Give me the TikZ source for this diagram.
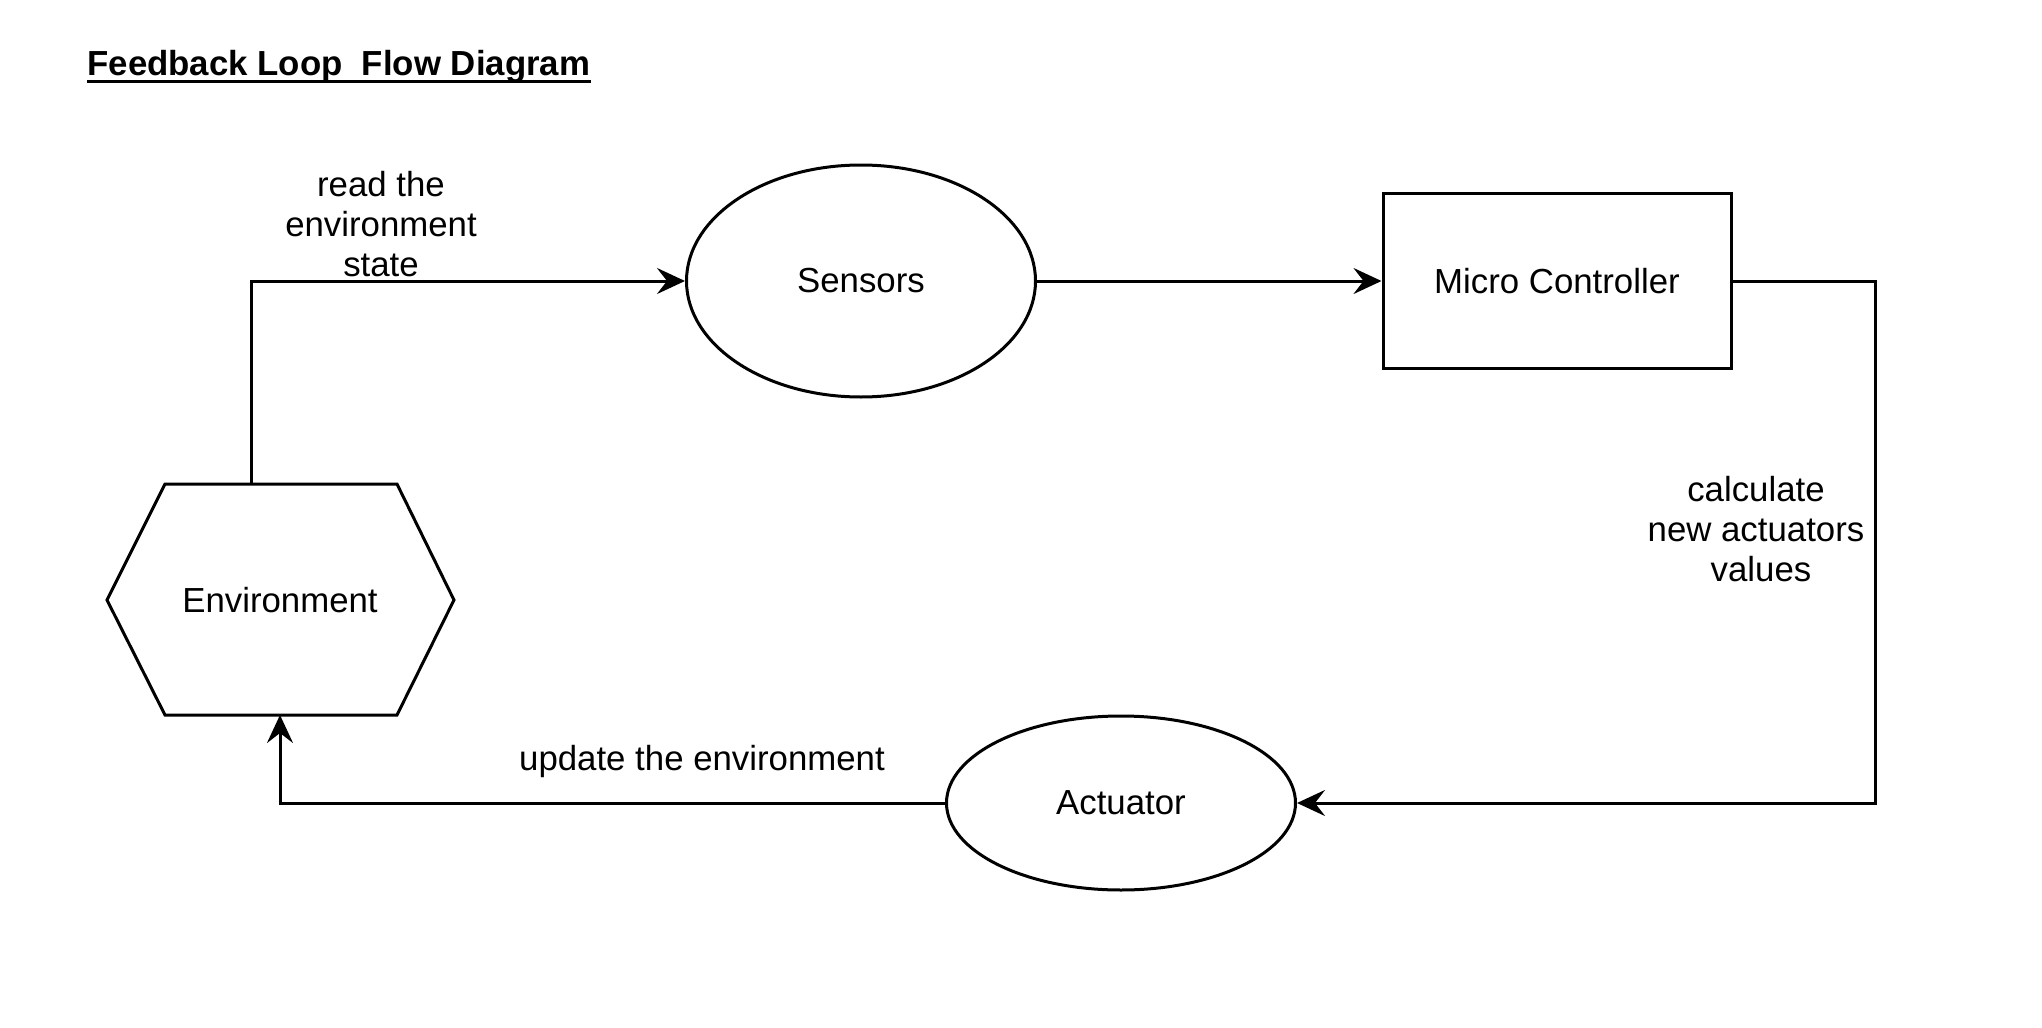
\documentclass[tikz,border=0pt]{standalone}
\usepackage{fontspec}
\setmainfont{Liberation Sans}
\usetikzlibrary{arrows.meta,shapes.geometric,calc}
\begin{document}
\begin{tikzpicture}[x=0.5pt,y=-0.5pt,
  every node/.style={font=\fontsize{17.4pt}{20.2pt}\selectfont},
  conn/.style={line width=1.5pt, -{Stealth[length=14pt,width=13pt,inset=5pt]}},
  shp/.style={draw, line width=1.5pt, inner sep=0pt},
  lbl/.style={align=center, inner sep=0pt}]
\useasboundingbox (0,0) rectangle (2042,1028);
% title
\node[anchor=base west, inner sep=0pt, font=\fontsize{17.4pt}{20.2pt}\selectfont\bfseries] (title) at (87,75.5) {Feedback Loop\ \ Flow Diagram};
\draw[line width=1.5pt] ([yshift=-3pt]title.base west) -- ([yshift=-3pt]title.base east);
% shapes
\node[shp, ellipse, minimum width=174.5pt, minimum height=116pt] (sens) at (861,281) {Sensors};
\node[shp, rectangle, minimum width=174pt, minimum height=87.5pt] (mc) at (1557,281) {Micro Controller};
\node[shp, ellipse, minimum width=174.5pt, minimum height=87pt] (act) at (1121,803) {Actuator};
\draw[line width=1.5pt] (107,600) -- (165,484) -- (397,484) -- (454,600) -- (397,715) -- (165,715) -- cycle;
\node[inner sep=0pt] (env) at (280,600) {Environment};
\coordinate (envTop) at (251,484);
\coordinate (envBot) at (280,715);
\coordinate (rc) at (1875,0);
% connectors
\draw[conn] (envTop) |- (sens.west);
\draw[conn] (sens.east) -- (mc.west);
\draw[conn] (mc.east) -- (mc.east -| rc) |- (act.east);
\draw[conn] (act.west) -| (envBot);
% labels
\node[lbl] (l1) at (381,224) {read the\\environment\\state};
\node[lbl] (l2) at (1756,529) {calculate\\new actuators\\\hspace*{5pt}values};
\node[lbl] (l3) at (702,761) {update the environment};
\end{tikzpicture}
\end{document}
